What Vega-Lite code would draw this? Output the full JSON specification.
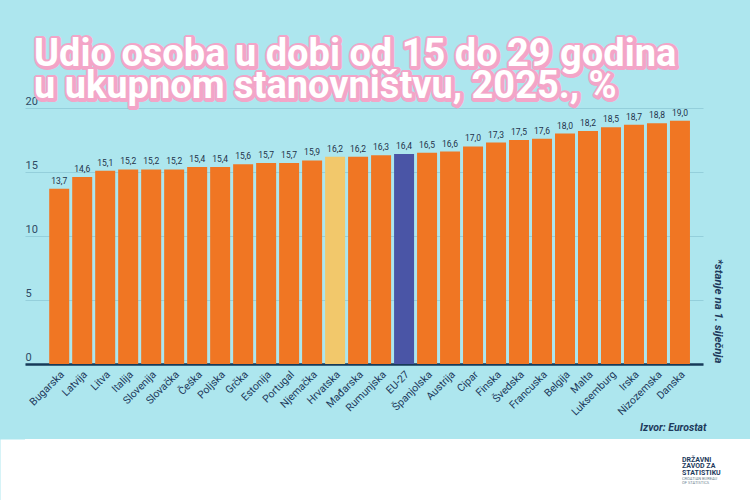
{
  "$schema": "https://vega.github.io/schema/vega-lite/v6.json",
  "background": "#ade6ee",
  "padding": {"top": 36, "left": 0, "right": 0, "bottom": 0},
  "autosize": {"type": "pad"},
  "columns": 1,
  "spacing": 6,
  "title": {
    "text": ["Udio osoba u dobi od 15 do 29 godina", "u ukupnom stanovništvu, 2025., %"],
    "anchor": "start",
    "frame": "group",
    "dx": 9,
    "offset": -69,
    "font": "Roboto",
    "fontSize": 38,
    "fontWeight": "bold",
    "lineHeight": 32,
    "color": "white",
    "zindex": 1
  },
  "config": {
    "locale": {"number": {"decimal": ",", "thousands": ".", "grouping": [3], "currency": ["", " €"]}},
    "style": {
      "pinkoutline": {"stroke": "#f3a5c8", "strokeWidth": 6, "strokeJoin": "round"}
    },
    "view": {"stroke": null}
  },
  "concat": [
    {
      "width": 678,
      "height": 256,
      "title": {
        "text": ["Udio osoba u dobi od 15 do 29 godina", "u ukupnom stanovništvu, 2025., %"],
        "anchor": "start",
        "frame": "group",
        "dx": 10,
        "offset": -12,
        "font": "Roboto",
        "fontSize": 38,
        "fontWeight": "bold",
        "lineHeight": 32,
        "color": "#f3a5c8",
        "style": "pinkoutline"
      },
      "data": {
        "values": [
          {"country": "Bugarska", "value": 13.7},
          {"country": "Latvija", "value": 14.6},
          {"country": "Litva", "value": 15.1},
          {"country": "Italija", "value": 15.2},
          {"country": "Slovenija", "value": 15.2},
          {"country": "Slovačka", "value": 15.2},
          {"country": "Češka", "value": 15.4},
          {"country": "Poljska", "value": 15.4},
          {"country": "Grčka", "value": 15.6},
          {"country": "Estonija", "value": 15.7},
          {"country": "Portugal", "value": 15.7},
          {"country": "Njemačka", "value": 15.9},
          {"country": "Hrvatska", "value": 16.2},
          {"country": "Mađarska", "value": 16.2},
          {"country": "Rumunjska", "value": 16.3},
          {"country": "EU-27", "value": 16.4},
          {"country": "Španjolska", "value": 16.5},
          {"country": "Austrija", "value": 16.6},
          {"country": "Cipar", "value": 17.0},
          {"country": "Finska", "value": 17.3},
          {"country": "Švedska", "value": 17.5},
          {"country": "Francuska", "value": 17.6},
          {"country": "Belgija", "value": 18.0},
          {"country": "Malta", "value": 18.2},
          {"country": "Luksemburg", "value": 18.5},
          {"country": "Irska", "value": 18.7},
          {"country": "Nizozemska", "value": 18.8},
          {"country": "Danska", "value": 19.0}
        ]
      },
      "encoding": {
        "x": {
          "field": "country",
          "type": "nominal",
          "sort": null,
          "scale": {"paddingInner": 0.13, "paddingOuter": 0.81, "align": 0.65},
          "axis": {
            "title": "Izvor: Eurostat",
            "titleAnchor": "end",
            "titleAlign": "right",
            "titleX": 681,
            "titleY": 66,
            "titleBaseline": "alphabetic",
            "titleFont": "Roboto",
            "titleFontSize": 10.5,
            "titleFontStyle": "italic",
            "titleFontWeight": "bold",
            "titleColor": "#1d3a5c",
            "labelAngle": -45,
            "labelAlign": "right",
            "labelBaseline": "top",
            "labelPadding": 5,
            "labelFont": "Roboto",
            "labelFontSize": 10.5,
            "labelColor": "#1d3a5c",
            "ticks": false,
            "domainColor": "#173a58",
            "domainWidth": 2.5,
            "grid": false
          }
        }
      },
      "layer": [
        {
          "mark": {"type": "bar"},
          "encoding": {
            "y": {
              "field": "value",
              "type": "quantitative",
              "scale": {"domain": [0, 20], "nice": false},
              "axis": {
                "orient": "left",
                "values": [0, 5, 10, 15, 20],
                "title": " ",
                "titleX": -25,
                "titleY": 0,
                "titleAngle": 0,
                "titleAlign": "left",
                "titleBaseline": "top",
                "labelAlign": "left",
                "labelBaseline": "bottom",
                "labelPadding": 0,
                "labelOffset": -2,
                "ticks": false,
                "tickSize": 0,
                "domain": false,
                "grid": true,
                "gridColor": "#94cfdb",
                "gridWidth": 1,
                "labelFont": "Roboto",
                "labelFontSize": 11,
                "labelColor": "#2f4a64"
              }
            },
            "color": {
              "condition": [
                {"test": "datum.country === 'Hrvatska'", "value": "#f2c86b"},
                {"test": "datum.country === 'EU-27'", "value": "#4a55a6"}
              ],
              "value": "#f07623"
            }
          }
        },
        {
          "mark": {"type": "text", "baseline": "bottom", "dy": -3, "font": "Roboto", "fontSize": 8.5, "color": "#1e324a"},
          "encoding": {
            "y": {
              "field": "value",
              "type": "quantitative",
              "axis": {
                "orient": "right",
                "title": "*stanje na 1. siječnja",
                "labels": false,
                "ticks": false,
                "domain": false,
                "grid": false,
                "titleAngle": 90,
                "titleX": 14,
                "titleY": 255,
                "titleAlign": "right",
                "titleBaseline": "middle",
                "titleFont": "Roboto",
                "titleFontSize": 11.5,
                "titleFontWeight": "bold",
                "titleFontStyle": "italic",
                "titleColor": "#1d3a5c"
              }
            },
            "text": {"field": "value", "type": "quantitative", "format": ".1f"}
          }
        }
      ],
      "resolve": {"axis": {"y": "independent"}}
    },
    {
      "width": 725,
      "height": 62,
      "view": {"fill": "white", "stroke": null},
      "data": {"values": [{}]},
      "mark": {"type": "point", "opacity": 0},
      "encoding": {
        "y": {
          "datum": 0,
          "type": "quantitative",
          "scale": {"domain": [0, 1]},
          "axis": {
            "orient": "left",
            "offset": 12.5,
            "domainWidth": 25,
            "domainColor": "white",
            "domainCap": "butt",
            "labels": false,
            "ticks": false,
            "grid": false,
            "title": null
          }
        }
      },
      "title": {
        "text": ["DRŽAVNI", "ZAVOD ZA", "STATISTIKU"],
        "subtitle": ["CROATIAN BUREAU", "OF STATISTICS"],
        "orient": "bottom",
        "anchor": "end",
        "align": "left",
        "dx": -68,
        "offset": -48,
        "font": "Roboto",
        "fontSize": 7,
        "fontWeight": "bold",
        "lineHeight": 6.5,
        "color": "#1d3a5c",
        "subtitleFont": "Roboto",
        "subtitleFontSize": 4,
        "subtitleLineHeight": 4.5,
        "subtitleColor": "#6b7f90",
        "subtitlePadding": 1
      }
    }
  ]
}
